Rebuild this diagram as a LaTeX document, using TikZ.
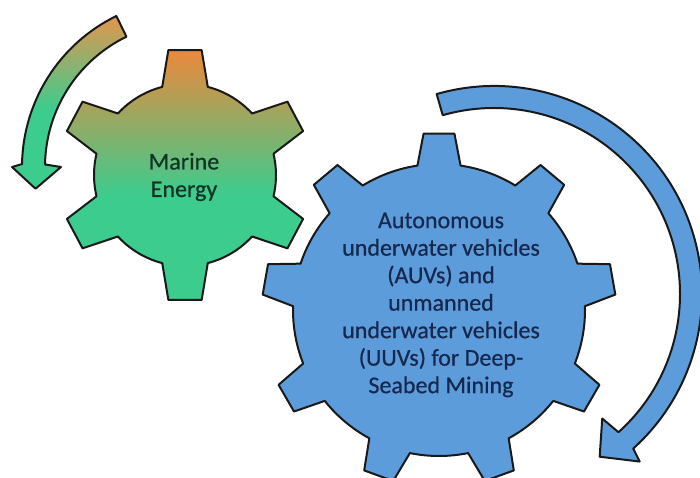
\documentclass[tikz,border=0pt]{standalone}
\usepackage{fontspec}
\setmainfont{Carlito}
\definecolor{gOrange}{RGB}{238,136,58}
\definecolor{gOlive}{RGB}{160,172,100}
\definecolor{gGreen}{RGB}{60,204,142}
\definecolor{bBlue}{RGB}{93,156,218}
\definecolor{gText}{RGB}{18,52,38}
\definecolor{bText}{RGB}{22,40,78}
\newcommand\gearGreenPath{(90-14.5:91) \foreach \a/\b in {90/152,152/208,208/270,270/332,332/388,388/450}{ -- (\a-7.6:126) -- (\a+7.6:126) -- (\a+14.5:91) arc[start angle=\a+14.5, end angle=\b-14.5, radius=91]} -- cycle}
\newcommand\gearBluePath{(90-8.5:146) \foreach \a/\b in {90/130,130/170,170/210,210/250,250/290,290/330,330/370,370/410,410/450}{ -- (\a-5:177) -- (\a+5:177) -- (\a+8.5:146) arc[start angle=\a+8.5, end angle=\b-8.5, radius=146]} -- cycle}
\newcommand\arrowGreenPath{(116:168) arc[start angle=116, end angle=179, radius=168] -- (180:178) -- (188:156) -- (180:129) -- (179:145) arc[start angle=179, end angle=116, radius=145] -- cycle}
\newcommand\arrowBluePath{(106:208) arc[start angle=106, end angle=-48, radius=208] -- (-49:222) -- (-57:194) -- (-49:165) -- (-48:186) arc[start angle=-48, end angle=106, radius=186] -- cycle}
\begin{document}
\begin{tikzpicture}[x=1pt,y=1pt,
  outline/.style={draw=black!90, line width=2pt, line join=round},
  geartext/.style={align=center, font=\fontsize{24}{27.5}\selectfont\addfontfeature{FakeBold=0.6}, inner sep=0pt}]
\useasboundingbox (0,0) rectangle (700,477);
% green arrow
\begin{scope}[shift={(190,310)}]
  \begin{scope}
    \clip \arrowGreenPath;
    \fill[gGreen] (-300,-300) rectangle (300,60);
    \shade[top color=gOrange!92!white, middle color=gOlive, bottom color=gGreen] (-300,158) rectangle (300,58);
  \end{scope}
  \draw[outline] \arrowGreenPath;
\end{scope}
% blue arrow
\begin{scope}[shift={(494,183)}]
  \fill[bBlue] \arrowBluePath;
  \draw[outline] \arrowBluePath;
\end{scope}
% green gear
\begin{scope}[shift={(185,302)}]
  \begin{scope}
    \clip \gearGreenPath;
    \fill[gGreen] (-200,-200) rectangle (200,-18);
    \shade[top color=gOrange, middle color=gOlive, bottom color=gGreen] (-200,127) rectangle (200,-20);
  \end{scope}
  \draw[outline] \gearGreenPath;
\end{scope}
% blue gear
\begin{scope}[shift={(439,167)}]
  \fill[bBlue] \gearBluePath;
  \draw[outline] \gearBluePath;
\end{scope}
\node[geartext, text=gText] (marine) at (184,300) {Marine\\Energy};
\node[geartext, text=bText] (auv) at (441,172) {Autonomous\\underwater vehicles\\(AUVs) and\\unmanned\\underwater vehicles\\(UUVs) for Deep-\\Seabed Mining};
\end{tikzpicture}
\end{document}
